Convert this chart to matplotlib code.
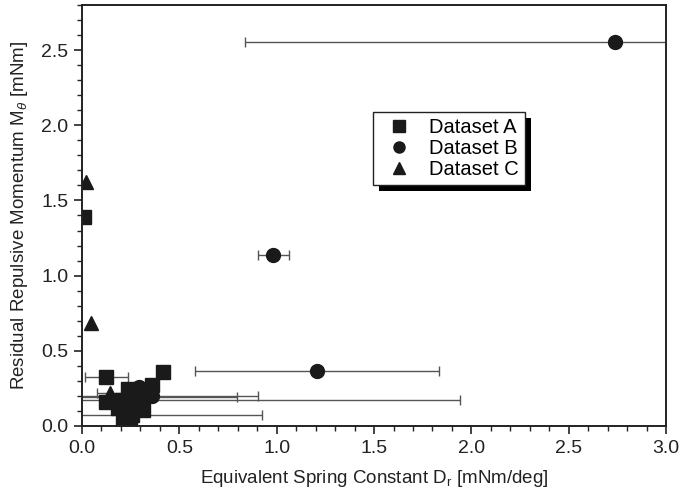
import matplotlib
matplotlib.use('Agg')
import matplotlib.pyplot as plt
import numpy as np
from matplotlib.lines import Line2D
from matplotlib.patches import Rectangle
from matplotlib.ticker import MultipleLocator
from matplotlib.transforms import IdentityTransform

plt.rcParams['font.family'] = ['Liberation Sans', 'DejaVu Sans']
plt.rcParams['mathtext.fontset'] = 'custom'
plt.rcParams['mathtext.rm'] = 'Liberation Sans'
plt.rcParams['mathtext.it'] = 'Liberation Sans:italic'

# Dataset A (squares)
a_x = [0.012, 0.125, 0.418, 0.361, 0.235, 0.122, 0.204, 0.187, 0.315, 0.221, 0.212, 0.247, 0.272, 0.307, 0.255]
a_y = [1.392, 0.328, 0.357, 0.273, 0.248, 0.162, 0.173, 0.118, 0.106, 0.051, 0.018, 0.028, 0.175, 0.195, 0.073]
a_err = [0.0, 0.11, 0.0, 0.0, 0.0, 0.0, 0.0, 0.0, 0.0, 0.0, 0.0, 0.0, 1.67, 0.49, 0.67]

# Dataset B (circles)
b_x = [2.738, 0.983, 1.209, 0.293, 0.361]
b_y = [2.553, 1.137, 0.366, 0.261, 0.200]
b_err = [1.90, 0.081, 0.627, 0.0, 0.545]

# Dataset C (triangles)
c_x = [0.019, 0.045, 0.146]
c_y = [1.620, 0.683, 0.217]
c_err = [0.0, 0.0, 0.07]

fig = plt.figure(figsize=(6.79, 4.99), dpi=100)
ax = fig.add_axes([0.1208, 0.1463, 0.8602, 0.8437])

ebar = dict(ecolor='#555555', elinewidth=1.0, capsize=3.5, capthick=1.0, linestyle='none',
            markeredgecolor='#1a1a1a', color='#1a1a1a')
ax.errorbar(a_x, a_y, xerr=a_err, marker='s', markersize=9.5, **ebar)
ax.errorbar(b_x, b_y, xerr=b_err, marker='o', markersize=10, **ebar)
ax.errorbar(c_x, c_y, xerr=c_err, marker='^', markersize=10, **ebar)

ax.set_xlim(0, 3.0)
ax.set_ylim(0, 2.8)
ax.xaxis.set_major_locator(MultipleLocator(0.5))
ax.xaxis.set_minor_locator(MultipleLocator(0.1))
ax.yaxis.set_minor_locator(MultipleLocator(0.1))
ax.set_yticks(np.arange(0, 2.6, 0.5))
ax.tick_params(which='major', direction='out', length=6, width=1.2, labelsize=14, colors='#222222', pad=4)
ax.tick_params(which='minor', direction='out', length=3.5, width=1.0, colors='#222222')
for s in ax.spines.values():
    s.set_linewidth(1.4)
    s.set_color('#222222')

ax.set_xlabel(r'Equivalent Spring Constant D$_\mathrm{r}$ [mNm/deg]', fontsize=13.5, color='#222222', labelpad=8)
ax.set_ylabel(r'Residual Repulsive Momentum M$_\theta$ [mNm]', fontsize=13.5, color='#222222', labelpad=8)

handles = [Line2D([], [], linestyle='none', marker=m, markersize=8, color='#1a1a1a')
           for m in ('s', 'o', '^')]
leg = ax.legend(handles, ['Dataset A', 'Dataset B', 'Dataset C'], loc='upper left',
                bbox_to_anchor=(0.498, 0.746), fontsize=14.5, frameon=True, fancybox=False,
                framealpha=1, edgecolor='#222222', borderpad=0.3, handletextpad=0.5,
                labelspacing=0.1, borderaxespad=0)
leg.get_frame().set_linewidth(1.0)
leg.set_zorder(5)

# solid drop shadow behind the legend box
fig.canvas.draw()
bb = leg.get_window_extent()
shadow = Rectangle((bb.x0 + 6, bb.y0 - 6), bb.width, bb.height, transform=IdentityTransform(),
                   facecolor='black', edgecolor='none', zorder=4, clip_on=False)
ax.add_patch(shadow)

fig.savefig('out.png', dpi=100)
